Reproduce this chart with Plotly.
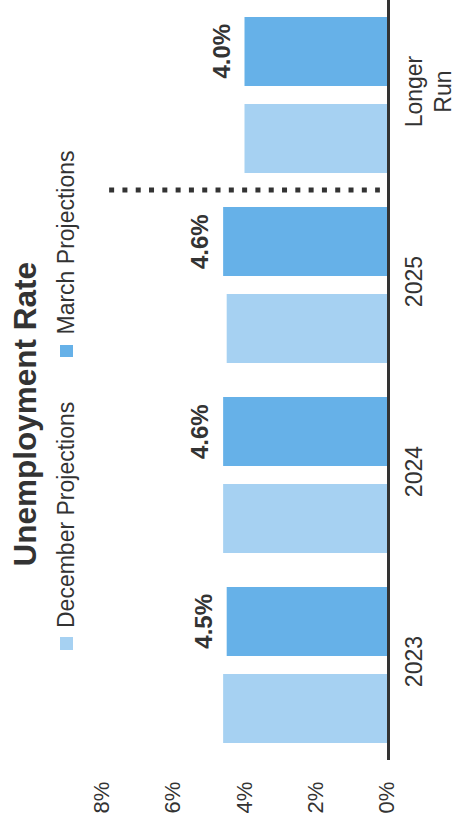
import plotly.graph_objects as go

# Unemployment rate projections (percent)
categories = ["2023", "2024", "2025", "Longer<br>Run"]
december = [4.6, 4.6, 4.5, 4.0]
march = [4.5, 4.6, 4.6, 4.0]
x_ticks = [0, 2, 4, 6, 8]
x_tick_labels = ["0%", "2%", "4%", "6%", "8%"]

LIGHT = "#a6d1f2"
DARK = "#66b1e8"
INK = "#333333"
FONT = "Liberation Sans, Arial, sans-serif"

W, H = 456, 827
ML, MR, MT, MB = 0, 69, 0, 67
PW, PH = W - ML - MR, H - MT - MB
BARGAP, GROUPGAP = 0.084, 0.207


def px(x):
    return (x - ML) / PW


def py(y):
    return 1 - (y - MT) / PH


fig = go.Figure()
fig.add_trace(go.Bar(
    y=categories, x=december, orientation="h", name="December Projections",
    marker=dict(color=LIGHT, line=dict(width=0)),
))
fig.add_trace(go.Bar(
    y=categories, x=march, orientation="h", name="March Projections",
    marker=dict(color=DARK, line=dict(width=0)),
))

# value labels beside the March bars (second slot of each group)
slot_offset = (1 - BARGAP) / 4
annotations = []
for i, v in enumerate(march):
    annotations.append(dict(
        text=f"<b>{v:.1f}%</b>", x=v, y=i + slot_offset, xref="x", yref="y",
        xanchor="right", yanchor="middle", xshift=-8, textangle=-90,
        showarrow=False, font=dict(family=FONT, size=24, color=INK),
    ))

# dotted separator between the dated projections and the longer run
fig.add_shape(type="line", xref="x", yref="y", x0=7.8, x1=0.2, y0=2.5, y1=2.5,
              line=dict(color=INK, width=5, dash="5px,8.3px"))

# title and legend, set vertically
for text, cx, cy, size in [
    ("<b>Unemployment Rate</b>", 24, 414.5, 31.5),
    ("December Projections", 66, 515, 23),
    ("March Projections", 66, 242.5, 23),
]:
    annotations.append(dict(
        text=text, x=px(cx), y=py(cy), xref="paper", yref="paper",
        xanchor="center", yanchor="middle", textangle=-90, showarrow=False,
        font=dict(family=FONT, size=size, color=INK),
    ))
fig.update_layout(annotations=annotations)

for color, (y0, y1) in [(LIGHT, (637, 650)), (DARK, (345, 357))]:
    fig.add_shape(type="rect", xref="paper", yref="paper",
                  x0=px(60), x1=px(73), y0=py(y1), y1=py(y0),
                  fillcolor=color, line=dict(width=0))

fig.update_layout(
    width=W, height=H,
    margin=dict(l=ML, r=MR, t=MT, b=MB, pad=0),
    paper_bgcolor="white", plot_bgcolor="white",
    barmode="group", bargap=BARGAP, bargroupgap=GROUPGAP,
    showlegend=False,
    xaxis=dict(range=[PW / 35.625, 0], tickvals=x_ticks, ticktext=x_tick_labels,
               tickangle=-90, showgrid=False, zeroline=False, showline=False,
               automargin=False,
               ticks="outside", ticklen=12, tickcolor="rgba(0,0,0,0)",
               tickfont=dict(family=FONT, size=22, color=INK)),
    yaxis=dict(side="right", range=[-0.5, 3.5], showgrid=False, zeroline=False,
               showline=True, linecolor=INK, linewidth=3, automargin=False,
               tickangle=-90, ticks="outside", ticklen=4,
               tickcolor="rgba(0,0,0,0)",
               tickfont=dict(family=FONT, size=23, color=INK)),
)

fig.write_html("out.html")
